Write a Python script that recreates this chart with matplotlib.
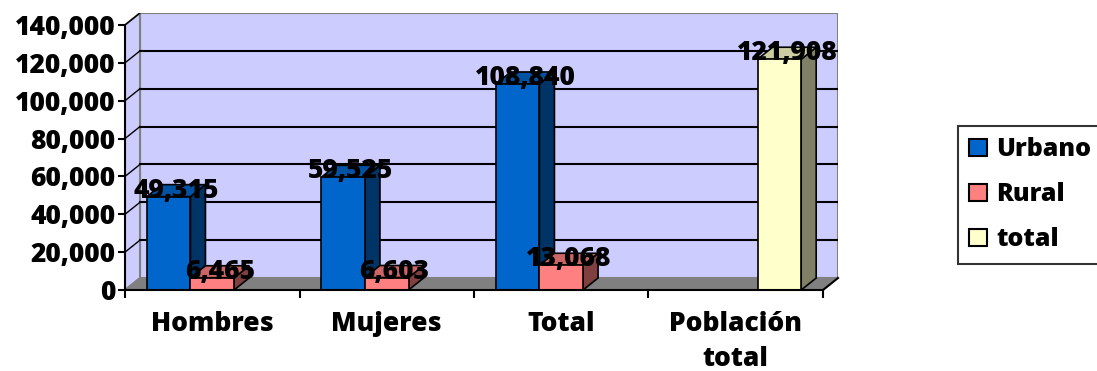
import numpy as np
import matplotlib
matplotlib.use("Agg")
import matplotlib.pyplot as plt
from matplotlib.patches import Polygon, Patch

plt.rcParams["font.family"] = ["Open Sans", "DejaVu Sans"]
plt.rcParams["font.weight"] = "bold"

categories = ["Hombres", "Mujeres", "Total", "Población\ntotal"]
series_names = ["Urbano", "Rural", "total"]
urbano = [49315, 59525, 108840, np.nan]
rural = [6465, 6603, 13068, np.nan]
total = [np.nan, np.nan, np.nan, 121908]
y_ticks = [0, 20000, 40000, 60000, 80000, 100000, 120000, 140000]

# front / side / top shade of each series
SHADES = {
    "Urbano": ("#0066CC", "#003366", "#0052A3"),
    "Rural": ("#FF8080", "#804040", "#CC6666"),
    "total": ("#FFFFCC", "#808066", "#CCCCA3"),
}
WALL = "#CCCCFF"
FLOOR = "#808080"
EDGE = "#808080"
FS = 19
FW = 800

W, H = 1097, 371
fig = plt.figure(figsize=(W / 100, H / 100), dpi=100)

# plot geometry (pixels) -> fake 3d depth in data units
x0_px, y0_px = 125, 290
cat_px = 174.5
val_px = 37.86 / 20000
dx_px, dy_px = 15, 12
ymax = y_ticks[-1]
ncat = len(categories)
DX = dx_px / cat_px
DY = dy_px / val_px

ax = fig.add_axes([x0_px / W, (H - y0_px) / H,
                   (ncat * cat_px + dx_px) / W,
                   (ymax * val_px + dy_px) / H])
ax.set_xlim(0, ncat + DX)
ax.set_ylim(0, ymax + DY)
ax.patch.set_visible(False)
for s in ("top", "right"):
    ax.spines[s].set_visible(False)

# walls and floor
ax.add_patch(Polygon([(DX, DY), (ncat + DX, DY), (ncat + DX, ymax + DY), (DX, ymax + DY)],
                     closed=True, fc=WALL, ec=EDGE, lw=1.5, zorder=0))
ax.add_patch(Polygon([(0, 0), (DX, DY), (DX, ymax + DY), (0, ymax)],
                     closed=True, fc=WALL, ec=EDGE, lw=1.5, zorder=0))
ax.add_patch(Polygon([(0, 0), (ncat, 0), (ncat + DX, DY), (DX, DY)],
                     closed=True, fc=FLOOR, ec=FLOOR, lw=1, zorder=1))
ax.plot([ncat, ncat + DX], [0, DY], color="black", lw=1.5, zorder=1, clip_on=False)

for v in y_ticks[1:-1]:
    ax.plot([DX, ncat + DX], [v + DY, v + DY], color="black", lw=1.5, zorder=0.5)
for v in y_ticks[1:]:
    ax.plot([0, DX], [v, v + DY], color="black", lw=1, zorder=0.5)

# bars
bw = 0.25
off = 0.125
data = [urbano, rural, total]
for j, (name, vals) in enumerate(zip(series_names, data)):
    front, side, top = SHADES[name]
    for i, v in enumerate(vals):
        if np.isnan(v):
            continue
        l = i + off + j * bw
        r = l + bw
        z = 2 + j
        ax.add_patch(Polygon([(r, 0), (r + DX, DY), (r + DX, v + DY), (r, v)],
                             closed=True, fc=side, ec="black", lw=1.2, zorder=z))
        ax.add_patch(Polygon([(l, v), (r, v), (r + DX, v + DY), (l + DX, v + DY)],
                             closed=True, fc=top, ec="black", lw=1.2, zorder=z))
        ax.add_patch(Polygon([(l, 0), (r, 0), (r, v), (l, v)],
                             closed=True, fc=front, ec="black", lw=1.2, zorder=z))
        ax.text((l + r + DX) / 2, v + DY / 2, f"{int(v):,}", ha="center", va="center",
                fontsize=FS, fontweight=FW, zorder=10)

# axes
ax.spines["left"].set_bounds(0, ymax)
ax.spines["bottom"].set_bounds(0, ncat)
ax.spines["left"].set_linewidth(1.5)
ax.spines["bottom"].set_linewidth(1.5)
ax.spines["left"].set_zorder(6)
ax.spines["bottom"].set_zorder(6)
ax.set_yticks(y_ticks)
ax.set_yticklabels([f"{v:,}" for v in y_ticks], fontsize=FS, fontweight=FW)
ax.tick_params(axis="y", direction="out", length=5, width=1.5, pad=2)
ax.set_xticks(range(ncat + 1))
ax.set_xticklabels([])
ax.tick_params(axis="x", which="major", direction="out", length=6, width=1.5)
ax.set_xticks([i + 0.5 for i in range(ncat)], minor=True)
ax.set_xticklabels(categories, minor=True, fontsize=FS, fontweight=FW, linespacing=1.45)
ax.tick_params(axis="x", which="minor", length=0, pad=15)

handles = [Patch(fc=SHADES[n][0], ec="black", lw=1.5) for n in series_names]
leg = fig.legend(handles, series_names, loc="upper left",
                 bbox_to_anchor=(958 / W, 1 - 126 / H), frameon=True, fancybox=False,
                 edgecolor="black", prop={"size": 18, "weight": FW},
                 handlelength=0.72, handleheight=0.72, handletextpad=0.35,
                 labelspacing=0.8, borderpad=0.45, borderaxespad=0)
leg.get_frame().set_linewidth(1.5)

fig.savefig("out.png", dpi=100)
